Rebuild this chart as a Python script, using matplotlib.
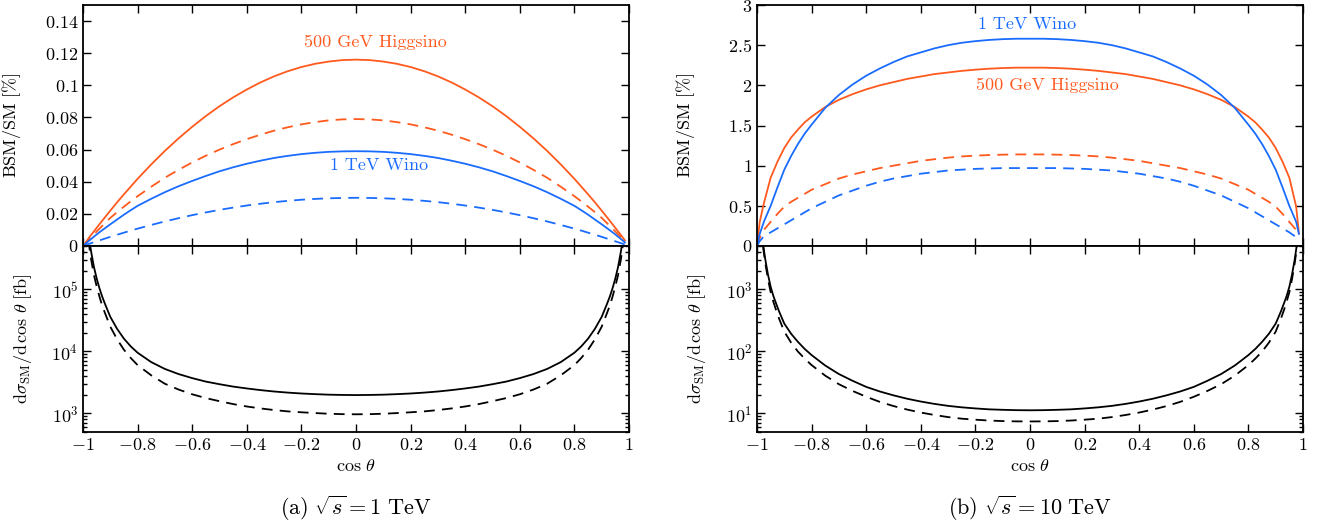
import matplotlib
matplotlib.use("Agg")
import matplotlib.pyplot as plt
from matplotlib.ticker import FixedLocator, FuncFormatter, LogLocator, LogFormatterMathtext, NullFormatter

plt.rcParams["font.family"] = "serif"
plt.rcParams["font.serif"] = ["cmr10", "DejaVu Serif"]
plt.rcParams["mathtext.fontset"] = "cm"
plt.rcParams["axes.formatter.use_mathtext"] = True

ORANGE = "#ff5a1e"
BLUE = "#1a6cff"

# cos(theta) grid for the BSM/SM ratio curves
x_ratio = [-1, -0.99, -0.975, -0.95, -0.925, -0.9, -0.875, -0.85, -0.825, -0.8, -0.75, -0.7, -0.65,
           -0.6, -0.55, -0.5, -0.45, -0.4, -0.35, -0.3, -0.25, -0.2, -0.15, -0.1, -0.05, 0,
           0.05, 0.1, 0.15, 0.2, 0.25, 0.3, 0.35, 0.4, 0.45, 0.5, 0.55, 0.6, 0.65, 0.7, 0.75, 0.8,
           0.825, 0.85, 0.875, 0.9, 0.925, 0.95, 0.975, 0.985]

# sqrt(s) = 1 TeV, BSM/SM [%]
a_higgsino = [0, 0.0023, 0.0058, 0.0113, 0.0167, 0.022, 0.0272, 0.0322, 0.037, 0.0418, 0.0508, 0.0592, 0.067,
              0.0742, 0.0809, 0.087, 0.0925, 0.0974, 0.1018, 0.1056, 0.1088, 0.1114, 0.1134, 0.1148, 0.1157, 0.116,
              0.1157, 0.1148, 0.1134, 0.1114, 0.1088, 0.1056, 0.1018, 0.0974, 0.0925, 0.087, 0.0809, 0.0742, 0.067,
              0.0592, 0.0508, 0.0418, 0.037, 0.0322, 0.0272, 0.022, 0.0167, 0.0113, 0.0058, 0.0035]
a_higgsino_dash = [0, 0.002, 0.0048, 0.009, 0.0133, 0.0175, 0.0211, 0.0245, 0.0278, 0.031, 0.0369, 0.0425, 0.0474,
                   0.052, 0.0562, 0.06, 0.0634, 0.0665, 0.0693, 0.0718, 0.0739, 0.0757, 0.0771, 0.0782, 0.0788, 0.079,
                   0.0788, 0.0782, 0.0771, 0.0757, 0.0739, 0.0718, 0.0693, 0.0665, 0.0634, 0.06, 0.0562, 0.052, 0.0474,
                   0.0425, 0.0369, 0.031, 0.0278, 0.0245, 0.0211, 0.0175, 0.0133, 0.009, 0.0048, 0.003]
a_wino = [0, 0.0015, 0.0037, 0.0072, 0.0104, 0.0135, 0.0165, 0.0195, 0.0223, 0.025, 0.0294, 0.0335, 0.0372,
          0.0405, 0.0436, 0.0465, 0.049, 0.0512, 0.0531, 0.0548, 0.0561, 0.0572, 0.058, 0.0586, 0.0589, 0.059,
          0.0589, 0.0586, 0.058, 0.0572, 0.0561, 0.0548, 0.0531, 0.0512, 0.049, 0.0465, 0.0436, 0.0405, 0.0372,
          0.0335, 0.0294, 0.025, 0.0223, 0.0195, 0.0165, 0.0135, 0.0104, 0.0072, 0.0037, 0.0022]
a_wino_dash = [0, 0.0006, 0.0015, 0.0029, 0.0043, 0.0057, 0.007, 0.0083, 0.0096, 0.0108, 0.0131, 0.0153, 0.0173,
               0.0192, 0.0209, 0.0225, 0.0239, 0.0252, 0.0263, 0.0273, 0.0281, 0.0288, 0.0293, 0.0297, 0.0299, 0.03,
               0.0299, 0.0297, 0.0293, 0.0288, 0.0281, 0.0273, 0.0263, 0.0252, 0.0239, 0.0225, 0.0209, 0.0192, 0.0173,
               0.0153, 0.0131, 0.0108, 0.0096, 0.0083, 0.007, 0.0057, 0.0043, 0.0029, 0.0015, 0.0009]

# sqrt(s) = 10 TeV, BSM/SM [%]
b_higgsino = [0, 0.3, 0.53, 0.85, 1.05, 1.22, 1.35, 1.45, 1.54, 1.61, 1.73, 1.82, 1.89,
              1.95, 2.0, 2.04, 2.08, 2.11, 2.14, 2.16, 2.18, 2.195, 2.207, 2.215, 2.22, 2.22,
              2.22, 2.215, 2.207, 2.195, 2.18, 2.16, 2.14, 2.11, 2.08, 2.04, 2.0, 1.95, 1.89,
              1.82, 1.73, 1.61, 1.54, 1.45, 1.35, 1.22, 1.05, 0.85, 0.49, 0.16]
b_higgsino_dash = [0, 0.1, 0.2, 0.3, 0.4, 0.49, 0.55, 0.6, 0.65, 0.7, 0.77, 0.84, 0.89,
                   0.93, 0.97, 1.0, 1.03, 1.06, 1.08, 1.1, 1.115, 1.125, 1.132, 1.137, 1.14, 1.14,
                   1.14, 1.137, 1.132, 1.125, 1.115, 1.1, 1.08, 1.06, 1.03, 1.0, 0.97, 0.93, 0.89,
                   0.84, 0.77, 0.7, 0.65, 0.6, 0.55, 0.49, 0.4, 0.3, 0.2, 0.13]
b_wino = [0, 0.15, 0.3, 0.5, 0.73, 0.95, 1.12, 1.27, 1.4, 1.51, 1.72, 1.88, 2.01,
          2.12, 2.21, 2.29, 2.36, 2.41, 2.46, 2.5, 2.53, 2.55, 2.565, 2.575, 2.58, 2.58,
          2.58, 2.575, 2.565, 2.55, 2.53, 2.5, 2.46, 2.41, 2.36, 2.29, 2.21, 2.12, 2.01,
          1.88, 1.72, 1.51, 1.4, 1.27, 1.12, 0.95, 0.73, 0.5, 0.3, 0.15]
b_wino_dash = [0, 0.06, 0.12, 0.17, 0.22, 0.27, 0.32, 0.37, 0.42, 0.47, 0.55, 0.63, 0.69,
               0.75, 0.8, 0.84, 0.87, 0.9, 0.92, 0.94, 0.95, 0.96, 0.965, 0.97, 0.97, 0.97,
               0.97, 0.97, 0.965, 0.96, 0.95, 0.94, 0.92, 0.9, 0.87, 0.84, 0.8, 0.75, 0.69,
               0.63, 0.55, 0.47, 0.42, 0.37, 0.32, 0.27, 0.22, 0.17, 0.11, 0.07]

# cos(theta) grid for the SM differential cross section
x_sm = [-0.99, -0.985, -0.98, -0.975, -0.97, -0.96, -0.95, -0.94, -0.93, -0.92, -0.9, -0.875, -0.85, -0.825,
        -0.8, -0.75, -0.7, -0.65, -0.6, -0.55, -0.5, -0.45, -0.4, -0.35, -0.3, -0.25, -0.2, -0.15, -0.1, -0.05, 0,
        0.05, 0.1, 0.15, 0.2, 0.25, 0.3, 0.35, 0.4, 0.45, 0.5, 0.55, 0.6, 0.65, 0.7, 0.75, 0.8,
        0.825, 0.85, 0.875, 0.9, 0.92, 0.93, 0.94, 0.95, 0.96, 0.97, 0.975, 0.98, 0.985, 0.99]

# dsigma_SM / dcos(theta) [fb]
a_sm = [3e6, 1.5e6, 8e5, 5.5e5, 4e5, 2.3e5, 1.5e5, 1.05e5, 7.7e4, 5.9e4, 3.6e4, 2.3e4, 1.6e4, 1.2e4,
        9500, 6700, 5200, 4300, 3700, 3250, 2950, 2700, 2520, 2370, 2250, 2160, 2090, 2040, 2000, 1980, 1970,
        1980, 2000, 2040, 2090, 2160, 2250, 2370, 2520, 2700, 2950, 3250, 3700, 4300, 5200, 6700, 9500,
        1.2e4, 1.6e4, 2.3e4, 3.6e4, 5.9e4, 7.7e4, 1.05e5, 1.5e5, 2.3e5, 4e5, 5.5e5, 8e5, 1.5e6, 3e6]
a_sm_dash = [2.4e6, 1.17e6, 6.2e5, 4.2e5, 3e5, 1.7e5, 1.12e5, 7.7e4, 5.5e4, 4.2e4, 2.5e4, 1.56e4, 1.06e4, 7800,
             6000, 4100, 3000, 2420, 2030, 1760, 1570, 1410, 1290, 1200, 1130, 1075, 1040, 1010, 985, 970, 965,
             970, 985, 1010, 1040, 1075, 1130, 1200, 1290, 1410, 1570, 1760, 2030, 2420, 3000, 4100, 6000,
             7800, 1.06e4, 1.56e4, 2.5e4, 4.2e4, 5.5e4, 7.7e4, 1.12e5, 1.7e5, 3e5, 4.2e5, 6.2e5, 1.17e6, 2.4e6]
b_sm = [2e4, 1.05e4, 6500, 4400, 3100, 1750, 1100, 780, 590, 450, 280, 192, 142, 109,
        87, 59, 43, 33.5, 26.7, 22.5, 19.5, 17.2, 15.5, 14.2, 13.2, 12.5, 12, 11.6, 11.4, 11.25, 11.2,
        11.25, 11.4, 11.6, 12, 12.5, 13.2, 14.2, 15.5, 17.2, 19.5, 22.5, 26.7, 33.5, 43, 59, 87,
        109, 142, 192, 280, 450, 590, 780, 1100, 1750, 3100, 4400, 6500, 1.05e4, 2e4]
b_sm_dash = [1.85e4, 9600, 5800, 3900, 2700, 1480, 900, 630, 460, 345, 208, 138, 99, 76,
             60, 40.5, 29.5, 23, 18.5, 15.3, 13.1, 11.5, 10.3, 9.4, 8.7, 8.2, 7.9, 7.65, 7.5, 7.42, 7.4,
             7.42, 7.5, 7.65, 7.9, 8.2, 8.7, 9.4, 10.3, 11.5, 13.1, 15.3, 18.5, 23, 29.5, 40.5, 60,
             76, 99, 138, 208, 345, 460, 630, 900, 1480, 2700, 3900, 5800, 9600, 1.85e4]

x_ticks = [-1, -0.8, -0.6, -0.4, -0.2, 0, 0.2, 0.4, 0.6, 0.8, 1]
a_yticks = [0, 0.02, 0.04, 0.06, 0.08, 0.1, 0.12, 0.14]
b_yticks = [0, 0.5, 1, 1.5, 2, 2.5, 3]

W, H = 1330, 529
DASH = (0, (6, 4))
LW = 1.3


def fmt(v, _pos=None):
    return f"${v:g}$"


def style_axis(ax):
    ax.tick_params(which="both", direction="in", top=True, right=True, labelsize=13, width=1.0)
    ax.tick_params(which="major", length=6)
    ax.tick_params(which="minor", length=3)
    for sp in ax.spines.values():
        sp.set_linewidth(1.3)


def make_panel(left, ratio_curves, ylim_top, yticks_top, sm, sm_dash, ylim_sm, labels, caption):
    ax_t = fig.add_axes([left / W, (H - 246) / H, 546 / W, 241 / H])
    ax_b = fig.add_axes([left / W, (H - 432) / H, 546 / W, 186 / H], sharex=ax_t)

    for y, color, ls in ratio_curves:
        ax_t.plot(x_ratio, y, color=color, ls=ls, lw=LW)
    ax_t.set_xlim(-1, 1)
    ax_t.set_ylim(*ylim_top)
    ax_t.yaxis.set_major_locator(FixedLocator(yticks_top))
    ax_t.yaxis.set_major_formatter(FuncFormatter(fmt))
    ax_t.xaxis.set_major_locator(FixedLocator(x_ticks))
    ax_t.tick_params(labelbottom=False)
    ax_t.set_ylabel(r"$\mathrm{BSM/SM}\ [\%]$", fontsize=13)
    style_axis(ax_t)
    for (tx, ty, txt, col) in labels:
        ax_t.text(tx, ty, txt, color=col, fontsize=13, ha="center", va="center")

    ax_b.plot(x_sm, sm, color="black", lw=LW)
    ax_b.plot(x_sm, sm_dash, color="black", ls=DASH, lw=LW)
    ax_b.set_yscale("log")
    ax_b.set_ylim(*ylim_sm)
    ax_b.yaxis.set_major_locator(LogLocator(base=10))
    ax_b.yaxis.set_major_formatter(LogFormatterMathtext())
    ax_b.yaxis.set_minor_locator(LogLocator(base=10, subs=range(2, 10)))
    ax_b.yaxis.set_minor_formatter(NullFormatter())
    ax_b.xaxis.set_major_formatter(FuncFormatter(fmt))
    ax_b.set_ylabel(r"$\mathrm{d}\sigma_{\mathrm{SM}}/\mathrm{d}\,\cos\,\theta\ [\mathrm{fb}]$", fontsize=13)
    ax_b.set_xlabel(r"$\cos\,\theta$", fontsize=13)
    style_axis(ax_b)

    ax_t.yaxis.set_label_coords(-0.11, 0.5)
    ax_b.yaxis.set_label_coords(-0.09, 0.5)
    fig.text((left + 273) / W, (H - 508) / H, caption, fontsize=16, ha="center", va="center")


fig = plt.figure(figsize=(W / 100, H / 100), dpi=100)

make_panel(83,
           [(a_higgsino, ORANGE, "-"), (a_higgsino_dash, ORANGE, DASH),
            (a_wino, BLUE, "-"), (a_wino_dash, BLUE, DASH)],
           (0, 0.15), a_yticks, a_sm, a_sm_dash, (500, 5e5),
           [(0.07, 0.127, "500 GeV Higgsino", ORANGE), (0.085, 0.05, "1 TeV Wino", BLUE)],
           r"$\mathrm{(a)}\ \sqrt{s} = 1\ \mathrm{TeV}$")

make_panel(757,
           [(b_higgsino, ORANGE, "-"), (b_higgsino_dash, ORANGE, DASH),
            (b_wino, BLUE, "-"), (b_wino_dash, BLUE, DASH)],
           (0, 3), b_yticks, b_sm, b_sm_dash, (5, 5e3),
           [(-0.01, 2.76, "1 TeV Wino", BLUE), (0.065, 2.0, "500 GeV Higgsino", ORANGE)],
           r"$\mathrm{(b)}\ \sqrt{s} = 10\ \mathrm{TeV}$")

fig.savefig("out.png", dpi=100)
